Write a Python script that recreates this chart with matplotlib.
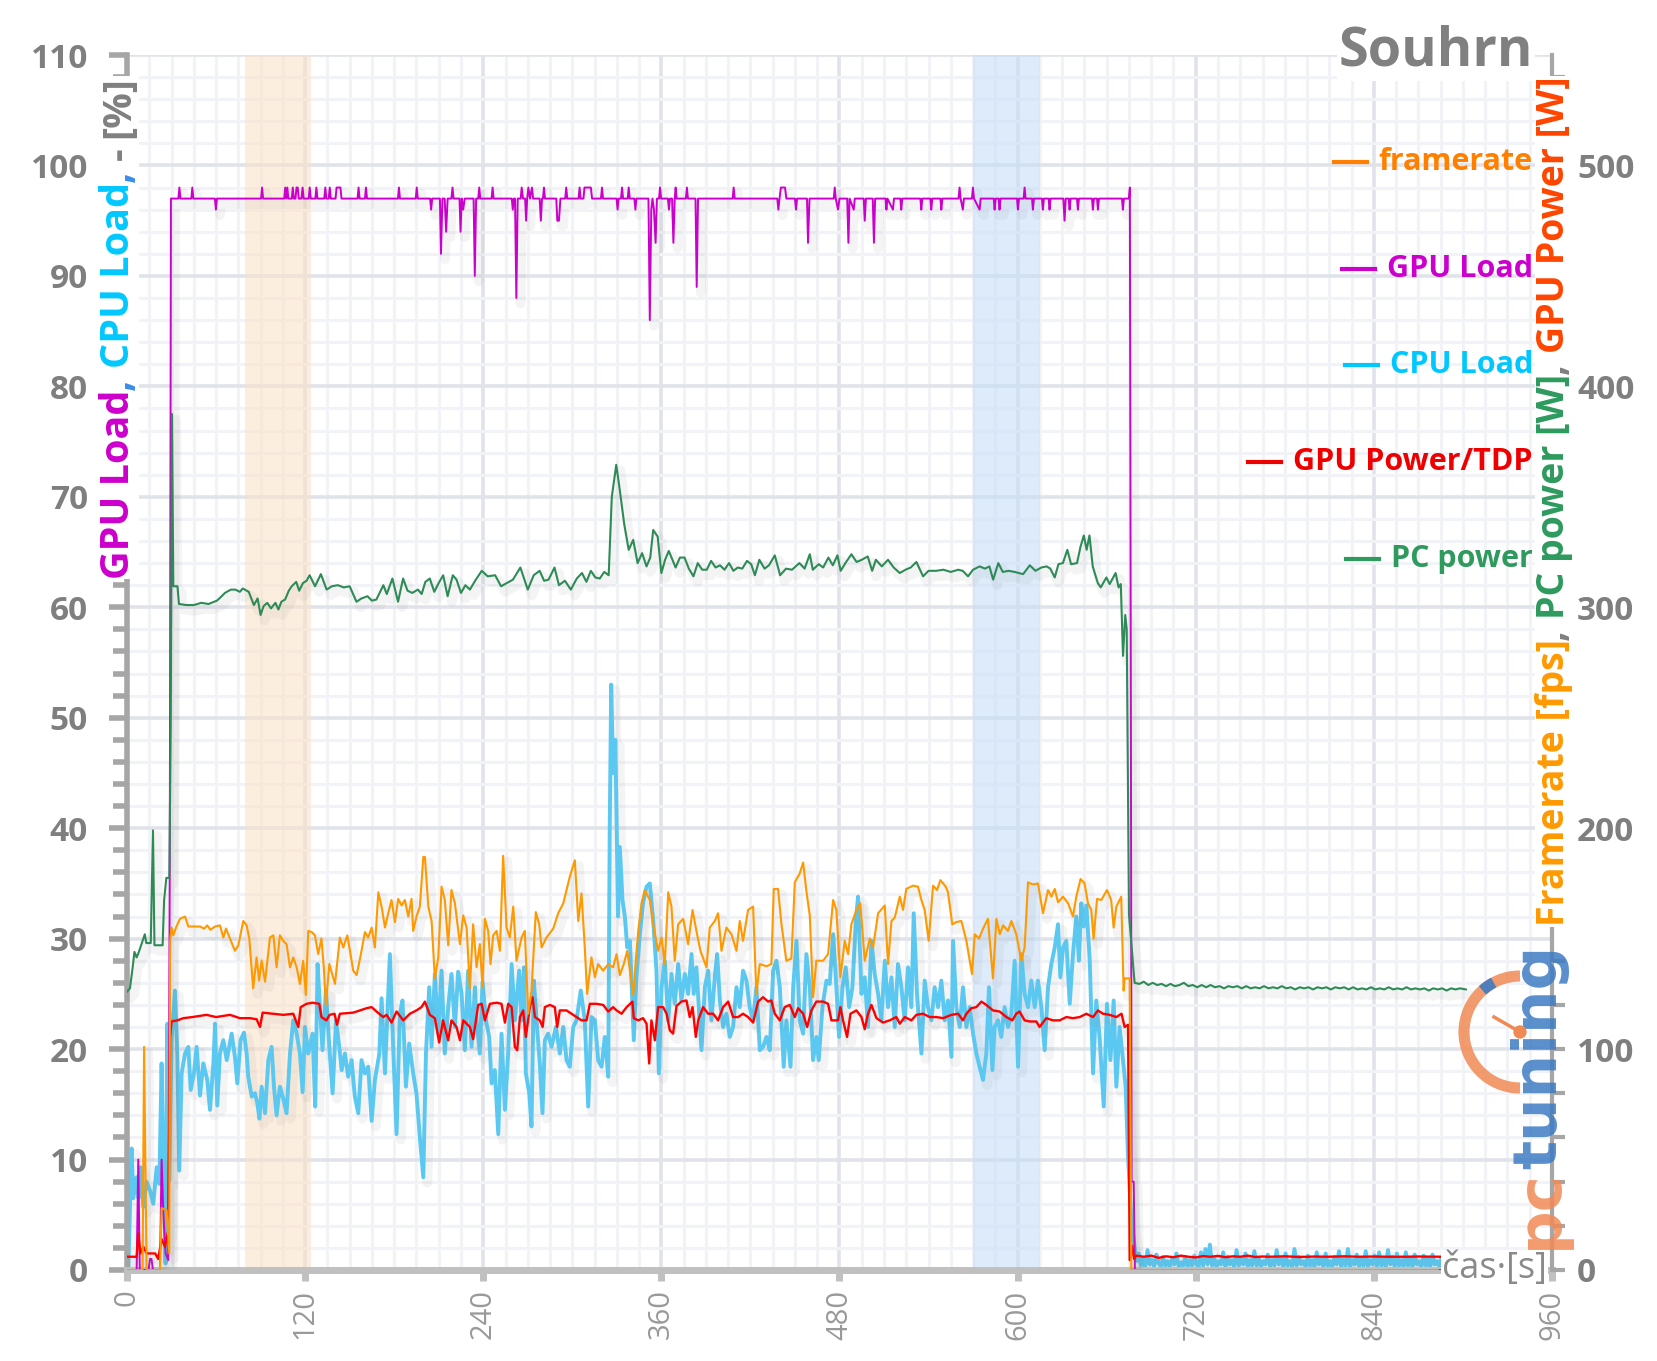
#!/usr/bin/env python

# Souhrn - GPU/CPU load, framerate and power over time

import numpy as np
import matplotlib.pyplot as plt
import matplotlib.patheffects as pe
from matplotlib.patches import Arc, Circle, Rectangle
from matplotlib.lines import Line2D
from matplotlib.transforms import IdentityTransform

plt.rcParams['font.family'] = ['Open Sans', 'DejaVu Sans']

# ---- data (time [s], value) ----
# GPU load [%]
gpu_load = [(0,0),(6.5,0),(7.6,10),(8.6,0),(14.5,0),(15.5,1),(16.5,1),(17.5,0),(22.2,0),(23.3,10),(24.5,5),(26,1.5),(27.8,0.9),(28.8,36),(29.6,97),
  (34.6,97),(35.3,98),(36,97),(43.3,97),(44,98),(44.7,97),(59.2,97),(59.9,96),(60.6,97),(90.3,97),(91,98),(91.7,97),
  (105.9,97),(106.6,98),(107.3,97),(108,98),(108.7,97),(111,97),(111.7,98),(112.4,97),(113.5,97),(114.2,98),(115,98),(115.7,97),(117.5,97),(118.3,98),(119,97),
  (122.4,97),(123.1,98),(123.8,97),(126.9,97),(127.6,98),(128.3,97),(132.9,97),(133.6,98),(134.3,97),(135.9,97),(136.6,98),(137.3,97),
  (140.5,97),(141.2,98),(143.8,98),(144.5,97),(155.3,97),(156,98),(156.7,97),(160.3,97),(161,98),(161.7,97),
  (182.5,97),(183.2,98),(183.9,97),(194.5,97),(195.2,98),(195.9,97),(204.2,97),(204.9,96),(205.6,97),
  (210.8,97),(211.5,92),(212.5,97),(214,97),(215,94),(216,97),(218.5,97),(219.3,98),(220,97),(224,97),(224.7,94),(225.5,97),(226.5,96),(227.5,97),
  (233.5,97),(234.3,90),(235.2,97),(236.6,97),(237.3,98),(238,97),(245.6,97),(246.3,98),(247,97),
  (259.2,97),(259.9,96),(260.6,97),(261.4,97),(262.3,88),(263.2,97),(265.2,97),(265.9,98),(266.8,97),(268.2,97),(268.9,95),(269.6,97),(270.4,98),(271.5,97),(272.8,98),(273.6,97),
  (278,97),(278.8,95),(279.6,97),(280.2,97),(280.9,98),(281.6,97),(289.2,97),(289.9,95),(291,95),(292,97),(295.2,97),(295.9,98),(296.6,97),
  (304.2,97),(304.9,98),(305.6,97),(307.5,97),(308.2,98),(312.5,98),(313.3,97),(319.3,97),(320,98),(320.7,97),
  (329.8,97),(330.5,96),(331.2,97),(332.8,97),(333.5,98),(334.2,97),(337.3,97),(338,98),(338.7,97),(341.8,97),(342.5,96),(343.2,97),
  (351.3,97),(352.2,86),(353.2,96),(354,97),(355,96),(356.1,93),(357,97),(358.4,97),(359.1,98),(359.8,97),
  (364.4,97),(365.1,96),(365.8,97),(367.2,97),(368.1,93),(369,97),(369.6,98),(370.3,97),(376.5,97),(377.2,98),(377.9,97),
  (383,97),(383.8,89),(384.7,97),(408,97),(408.7,98),(409.4,97),
  (438.1,97),(438.8,96),(439.6,97),(440.5,98),(443.3,98),(444.2,97),(450,97),(450.7,96),(451.4,97),(458.1,97),(458.8,93),(459.8,97),
  (476.1,97),(476.8,98),(477.5,97),(479,96),(480,97),(485.2,97),(486,93),(486.8,97),(489.6,96),(490.3,97),(496.3,97),(497,95),(497.8,97),(502.4,97),(503.2,93),(504,97),
  (511,97),(511.6,96),(512.3,97),(516,96),(516.7,97),(521,97),(521.6,96),(522.3,97),(534.5,97),(535.1,96),(535.8,97),(541.2,97),(541.8,96),(542.5,97),(548,97),(548.6,96),(549.3,97),
  (560.2,97),(560.9,98),(561.6,97),(563.1,96),(563.8,97),(569.2,97),(569.9,98),(570.6,97),(574.4,96),(575.1,97),(583.9,97),(584.5,96),(585.2,97),(587.2,97),(587.8,96),(588.5,97),
  (599.6,97),(600.2,96),(600.9,97),(604,97),(604.7,98),(605.4,97),(609.7,97),(610.3,96),(611,97),(616.4,97),(617,96),(617.7,97),(620.9,97),(621.5,96),(622.2,97),
  (630.8,97),(631.6,95),(632.4,97),(634.4,97),(635,96),(635.7,97),(640,97),(640.6,96),(641.3,97),(650.1,97),(650.7,96),(651.4,97),(653.5,97),(654.1,96),(654.8,97),
  (670.3,97),(670.9,96),(671.6,97),(675,97),(675.6,98),(676.3,50),(676.8,8),(678.2,8),(679,0),(885,0)]

# CPU load [%]
cpu_load = [(0,0),(0.9,0),(3.1,11),(4.2,6.5),(6.5,8.4),(7.8,6.5),(9.2,9.3),(11,5.7),(13.2,8),(15.5,7.2),(17.7,6),(20,9.3),(21.8,7.8),
  (23.3,18.7),(24.5,9.9),(26,0.6),(27.2,22.3),(28.5,8.1),(30,20.8),(32.3,25.3),(33.9,19.6),(35.2,9),(36.8,17.8),(39.1,19.6),(41.3,20.2),
  (42.9,16.3),(45.1,17.8),(46.9,20.2),(49.2,15.8),(51.4,18.7),(54.1,17.2),(55.9,14.5),(58.2,18.7),(59.3,22.3),(60.8,14.9),(62.6,19.6),
  (64.9,20.8),(67.2,19),(70.5,21.4),(72.7,19.3),(74.3,16.9),(76.5,20.8),(78.8,21.5),(80.6,19.6),(81.7,17.5),(84,15.7),(86.2,16),(87.8,15.1),
  (89.2,13.7),(90.7,16.6),(93,14.2),(95.2,19),(97.4,20.2),(99,16.6),(100.8,14),(103,16.6),(105.3,15.5),(107.5,14.2),(109.8,19.6),(112,22.6),
  (114.3,21.4),(116.5,19.6),(118.3,16.1),(119.9,22),(122.1,19.6),(125,21.4),(126.8,14.8),(128.4,27.7),(130,23.8),(131.7,19.9),(134,25.3),
  (136.3,20.2),(138.5,16),(140.8,22.6),(143,20.2),(144.6,18.1),(146.8,19.6),(149,17.5),(151.3,19),(153.5,15.7),(155.8,14.2),(158,19),
  (160.3,17.8),(162.5,18.4),(164.8,13.5),(167,17.2),(170,19.6),(171.5,24.6),(173.8,17.8),(177.1,28.6),(179.3,20.2),(181.6,12.3),(183.8,23.2),
  (185.6,24.4),(187.9,16.6),(190.1,20.5),(192.8,17.8),(195,16),(197.3,12),(199.6,8.4),(201.4,19.6),(203.6,25.6),(205.2,20.2),(207.4,26.8),
  (209.7,21.4),(211.9,27.1),(214.1,19.6),(216.4,23.8),(218.6,26.8),(220.9,22),(223.1,27),(225.4,25),(227.6,19.9),(229.8,27.1),(232.1,20.2),
  (234.4,25.6),(235.5,22.6),(237.7,19.6),(239.5,26.1),(241.8,22.6),(244,21.1),(245.6,16.9),(247.8,18.1),(250.1,12.3),(252.3,21.4),(254.6,14.5),
  (256.8,19.6),(259.1,27.7),(261.3,22.6),(264.2,27.1),(265.8,22.6),(267.4,27.4),(268.7,17.8),(271,16),(272.5,13),(274.1,26.2),(275.9,22.6),
  (278.1,18.7),(279.9,14.2),(281.5,20.8),(283.7,21.4),(286,20.2),(288.9,22),(291.6,19.6),(293.9,22),(296.1,19),(298.3,18.4),(300.6,22),
  (302.8,22.6),(305.7,25.3),(308.4,22.6),(310.7,14.8),(312.9,22.9),(315.2,22.6),(317.4,19),(319.7,18.4),(321.9,21.1),(324.2,17.5),(325.2,40),
  (326.2,53),(327.5,45),(329,48),(330.8,32),(332,38.3),(333.8,33.5),(335.4,32),(337,29.2),(338.8,29.8),(341.4,20.8),(343.2,26.5),(345.5,30.4),
  (347.7,33.3),(350,34.7),(352.2,35),(354.5,31.6),(356.7,27.1),(358.3,17.8),(360.1,25.6),(362.3,28),(364.6,22.6),(366.8,26.8),(369,24.1),
  (371.3,27.7),(373.5,24.4),(375.8,26.8),(378,25),(380.3,28.6),(381.8,25),(383.6,27.4),(387,19.9),(389.3,25.6),(391.5,27.1),(393.7,22.6),
  (396,26.5),(397.6,28.6),(399.4,24.4),(401.6,22),(403.8,23.2),(406.1,21.1),(408.3,22),(410.6,25.6),(412.8,23.8),(415,27.1),(417.3,26.2),
  (419.5,23.8),(421.8,22.6),(424,25.6),(426.3,19.9),(428.5,20.2),(430.8,21.1),(433,19.9),(435.3,27.1),(437.5,28),(439.8,25.6),(442.4,18.4),
  (444.2,22.6),(447,18.4),(448.8,25.6),(451,29.8),(453.2,22.6),(455.5,21.4),(457.7,28.6),(460,25.6),(462.2,19),(464.4,21.1),(466,19),
  (468.5,23.8),(471.2,26.2),(473.4,25.9),(475.7,30.4),(477.9,25.6),(479.7,21.1),(482,25.6),(484.2,27.4),(486.5,23.8),(488.7,25.6),(491,31.6),
  (492.5,33.8),(494.8,25),(497,26.5),(499.2,22),(501.5,29.8),(503.7,26.8),(506,25),(508.2,22.6),(510.5,28),(512.7,23.8),(515,26.5),(517.2,22),
  (519.4,27.7),(521.7,25.6),(523.9,22.6),(526.2,27.4),(528.4,23.8),(530,32.3),(532.2,25),(535.2,19.6),(537.4,26.2),(539.6,23.8),(541.9,22.6),
  (544.1,25.6),(546.4,23.8),(548.6,26.2),(550.9,22.6),(553.1,24.4),(555.4,19.3),(556.5,29.8),(558.7,23.8),(561,22),(563.2,25.6),(565.5,22),
  (567.7,23.8),(570,21.4),(572.2,19.6),(574.4,18.4),(576.7,17.2),(578.9,19.6),(580.7,25.6),(583,18.1),(584.5,22),(586.8,22.6),(589,21.1),
  (591.2,23.8),(593.5,22),(595.8,23.2),(598,28),(600.3,18.4),(602.5,28.6),(604.7,25),(607,23.8),(609.2,26.2),(611.5,23.8),(613.7,26.2),
  (616,23.8),(618.2,19.9),(620.5,25.6),(622.7,27.7),(625,29.2),(627.2,31.3),(628.8,26.5),(630.6,29.2),(632.8,29.8),(635.1,24.1),(637.3,28.6),
  (639.5,32),(641.3,28),(642.9,33.2),(644.5,31.1),(646.3,33),(648.6,28),(650.8,17.8),(653,24.4),(655.2,21.1),(658,14.8),(660.2,24.1),
  (662.5,19),(664.7,24.4),(666.5,16.6),(668.7,22),(671,19),(672.8,16.6),(674.3,10.5),(676.6,4.5),(678.8,2.1),
  (680,0.8),(681.5,1.5),(683,0.4),(684.5,1.1),(686,0.3),(687.5,1.8),(689,0.5),(690.5,0.9),(692,0.3),(693.5,1.4),(695,0.6),(696.5,0.3),
  (698,1.2),(699.5,0.4),(701,0.8),(702.5,0.3),(704,1.0),(705.5,0.5),(707,1.5),(708.5,0.3),(710,0.7),(711.5,0.4),(713,1.2),(714.5,0.3),
  (716,0.9),(717.5,0.4),(719,1.3),(720.5,0.5),(722,0.3),(723.5,1.6),(725,0.4),(726.5,1.9),(728,0.5),(729.5,2.3),(731,0.4),(732.5,1.1),
  (734,0.3),(735.5,0.8),(737,0.5),(738.5,1.6),(740,0.3),(741.5,1.2),(743,0.5),(744.5,0.9),(746,0.3),(747.5,1.8),(749,0.4),(750.5,1.0),
  (752,0.5),(753.5,1.5),(755,0.3),(756.5,0.9),(758,0.4),(759.5,1.7),(761,0.4),(762.5,1.1),(764,0.3),(765.5,0.8),(767,0.5),(768.5,1.4),
  (770,0.3),(771.5,0.9),(773,0.4),(774.5,1.8),(776,0.5),(777.5,1.0),(779,0.3),(780.5,1.5),(782,0.4),(783.5,0.8),(785,0.3),(786.5,1.9),
  (788,0.4),(789.5,1.2),(791,0.5),(792.5,0.8),(794,0.3),(795.5,1.3),(797,0.4),(798.5,0.9),(800,0.3),(801.5,1.6),(803,0.5),(804.5,1.0),
  (806,0.3),(807.5,1.5),(809,0.4),(810.5,0.8),(812,0.3),(813.5,1.2),(815,0.5),(816.5,1.7),(818,0.3),(819.5,1.0),(821,0.4),(822.5,1.9),
  (824,0.3),(825.5,0.9),(827,0.5),(828.5,1.4),(830,0.3),(831.5,1.1),(833,0.4),(834.5,1.7),(836,0.3),(837.5,0.9),(839,0.5),(840.5,1.3),
  (842,0.3),(843.5,1.6),(845,0.4),(846.5,1.0),(848,0.3),(849.5,1.8),(851,0.5),(852.5,1.2),(854,0.3),(855.5,1.5),(857,0.4),(858.5,0.9),
  (860,0.3),(861.5,1.6),(863,0.4),(864.5,1.1),(866,0.3),(867.5,1.4),(869,0.5),(870.5,0.8),(872,0.3),(873.5,1.3),(875,0.4),(876.5,1.0),
  (878,0.3),(879.5,1.4),(881,0.5),(882.5,0.8),(884,0.3),(885.5,1.1),(887,0.4),(888.5,0.9),(890,0.3)]

# framerate [fps]
framerate = [(0,0),(10.5,0),(11.5,101),(13.2,0),(22.2,0),(23.3,28),(26.7,27),(28.5,7.5),(29,149),(30,155),(31.2,151.5),(33,155),
  (35.7,159),(39.1,160),(41.3,155.5),(49.2,155.5),(52,154.5),(54,156),(56.2,154),(59.3,155.5),(62.6,156),(64.9,150.5),(66.7,154.5),
  (69.4,150),(72.7,144.5),(75,147),(78.3,158),(80.6,156),(82.4,150),(85,127.5),(87.3,141.5),(89,131),(90.7,140),(93,130.5),(96.3,150.5),
  (98.6,151.5),(100.8,137),(103,151.5),(105.3,149),(107.5,147.5),(109.8,137),(112,141.5),(114.3,137),(116.5,129.5),(118.7,140),(120.5,124.5),
  (122.1,153.5),(124.4,153),(126.6,151.5),(128.8,143),(131,150),(132.6,137),(134,120),(136.3,138.5),(140.1,129.5),(143.4,150.5),(145.7,146),
  (148.4,151.5),(150.2,144.5),(152.4,135.5),(154.7,133.5),(157,141),(160.3,153),(162.5,150.5),(164.8,155),(167,146),(169.3,171),(171.5,164.5),
  (173.8,155),(176,161.5),(178.2,167.5),(180.5,157.5),(182.7,168),(185,165),(187.2,167.5),(189.5,160),(191.7,168),(192.8,153.5),(195,160),
  (197.3,164.5),(199.6,187),(200.7,187),(203,164.5),(205.2,158),(207.4,132),(209.7,141.5),(211.9,173.5),(214.1,167.5),(216.4,147),(218.6,172),
  (220.9,166),(224.3,147.5),(226.5,160.5),(228.8,155),(231,127.5),(233.2,156.5),(235.5,137),(237.7,147.5),(239.5,128),(241.1,159),(243.3,153.5),
  (244.9,138.5),(246.7,151.5),(249,153.5),(251.2,144.5),(253.4,187.5),(255.7,155),(257.9,150.5),(260.2,164.5),(262.4,140),(265.8,150.5),
  (268,153.5),(270.3,116),(272.5,126.5),(275.4,162),(277.7,156.5),(279.3,146),(282.6,150.5),(287.1,154.5),(290.5,161.5),(293.9,166),(296.1,172),
  (298.3,178),(301.7,185.5),(304,158),(306.2,170.5),(308.4,146),(310,125),(312.9,141.5),(315.2,132.5),(317.4,138.5),(320.8,135.5),(324.2,138.5),
  (327.5,137),(329.8,143),(332,133.5),(334.7,138.5),(337,144.5),(338.8,135.5),(341,124.5),(344.4,153.5),(346.6,166),(348.8,172),(352.2,167.5),
  (354.5,156.5),(357.8,144.5),(360.1,150.5),(362.3,138.5),(364.6,171),(366.8,164.5),(369,140),(371.3,156.5),(374.7,159),(378,147.5),(381,163),
  (383.6,153.5),(386.3,144.5),(390.4,137),(392.6,155),(396,158),(398.2,161.5),(400.5,144.5),(403.8,155),(407.2,152),(410.6,144.5),(412.8,158),
  (415,149),(418.4,163),(421.8,164.5),(424,125),(426.3,138.5),(430.8,137.5),(434.1,138.5),(435.7,172.5),(438.6,172.5),(440.9,156.5),(444.2,140),
  (447.6,141),(449.9,175.5),(453.2,179.5),(455.5,184.5),(457.7,171.5),(460,160.5),(462.2,123.5),(464.4,140),(469,140),(472.3,143),(475.7,167.5),
  (477.9,163),(480.6,132.5),(483.5,149),(485.8,143),(488,156.5),(491.4,163),(494,166),(497,140),(500.4,150),(502.6,146),(506,161.5),(510.5,165),
  (512.7,138.5),(515,158),(517.2,159.5),(520.6,169),(522.8,163),(525,172.5),(529.6,174),(532.9,173.5),(535.2,167.5),(537.4,163),(540.1,149),
  (543,174),(545.7,172),(548,176.5),(551.6,173.5),(553.1,171),(556,156.5),(558.7,157.5),(562.1,158),(565.5,149),(569.3,134),(571.1,152),(574,150),
  (576.7,154.5),(580,159),(583.4,132),(585.7,159),(588,152),(590.2,156),(593.5,153.5),(595.8,158),(599.1,152),(602.5,140),(604.7,146),(607,175.5),
  (610.3,174.5),(613.7,175),(617.1,161.5),(620.5,172),(622.7,169),(625,172.5),(627.2,166.5),(630.6,169),(634,166),(637.3,160),(639.5,169),
  (642.4,177),(645.1,175),(647.4,166),(649.6,163),(651.2,150),(653.5,168),(656.4,167.5),(660.2,172),(663,167.5),(664.7,155),(666.5,164.5),
  (669.8,169),(671.4,126.5),(672.1,132),(675.5,132),(676.6,0),(883,0)]

# GPU power [W]
gpu_power = [(0,6),(6.5,6),(7.6,16.5),(9,7.5),(11,10.5),(13.2,7.5),(19,7.5),(21,5),(23.3,14),(25.6,10.5),(27.8,18),(29,105.5),(30,112.5),
  (33.9,113),(38,114),(44,114.5),(53.6,115.5),(60,114.5),(69.4,115.5),(76,114),(83,114),(87.3,113.5),(89.6,110),(91.4,116.5),(98.6,116),
  (105.3,115.5),(112,116),(115.4,110),(117,119),(121,120.5),(125,121),(129.5,120.5),(131,114.5),(134.3,113),(136.5,115.5),(139.8,116),
  (141.5,111),(143.4,116),(152.4,116.5),(157,117.5),(161.4,118.5),(164.8,119),(168.1,117),(172.6,114.5),(174.9,115.5),(178.2,112),(181.6,117),
  (186.1,113),(190.6,116),(195,117.5),(198.4,119),(200.7,121.5),(204,115.5),(207.4,114),(210.3,103),(212.9,113),(216.4,104),(218.6,113),
  (222,110),(224.3,104),(226.5,113),(231,110),(233.2,104.5),(236.6,120),(238.9,120.5),(241.1,113),(244.5,120.5),(249,121),(252.3,120.5),
  (254.6,112),(256.8,120.5),(259.1,119),(261.3,101),(262.9,99.5),(264.7,114.5),(266.9,117.5),(268.7,105.5),(271.4,119),(273.2,123.5),
  (274.8,114.5),(278.1,113),(280,110),(281.5,119),(284.9,120),(288.2,119),(289.8,110),(291.6,117.5),(296.1,117.5),(299.5,116),(302.8,114.5),
  (306.2,113),(309.6,113),(311.8,120.5),(316.3,120.5),(320.8,120),(324.2,117),(327.5,119),(329.8,117.5),(333.2,116),(336.6,119),(340.5,121.5),
  (341.4,114),(344.4,113),(347.7,114),(350,111.5),(351.8,93.5),(353.3,113),(355.6,104),(357.8,119),(361.2,119),(363.5,116),(365.7,108.5),
  (367.9,107),(370.2,119.5),(373.5,121.5),(376.9,122),(379.1,114.5),(381,119),(383.2,105.5),(384.8,113),(388.1,119),(391.5,116),(394.9,116),
  (398.2,113),(401.6,119),(405,121.5),(408.3,114.5),(411.7,114.5),(415,116),(418.4,114.5),(421.8,112),(425.2,121.5),(428.5,123.5),(431.9,121.5),
  (434.1,122),(436.4,116),(439.8,113),(443.1,119),(446.5,120),(449.9,114.5),(452.1,118.5),(455.5,116),(458.2,110),(461.1,117.5),(464.4,121.5),
  (469,121.5),(472.3,120.5),(474.6,113),(479,113),(480.6,119),(482.4,113),(485.1,105.5),(487.4,116),(491.4,117.5),(494.8,114.5),(497,109),
  (499.2,116),(501.5,120),(504.9,114),(509.3,112),(513.8,113),(518.3,114.5),(520.6,111.5),(524,114.5),(528.4,113),(531.8,115.5),(536.3,116),
  (540.8,114.5),(545.3,114.5),(549.8,114),(555.4,115.5),(559.9,116),(563.2,113),(565.5,116),(568.8,118.5),(572.2,119),(575.6,121.5),(578.9,120),
  (583.4,117.5),(587.9,117),(592.4,114.5),(596.4,113),(599.1,116),(601.3,117),(604.7,113),(608.1,112.5),(612.6,112.5),(614.8,110),(619.3,114),
  (623.8,113),(628.3,113),(632.8,114.5),(637.3,114),(641.8,114.5),(646.3,116),(650.8,114.5),(654.1,117.5),(657.5,116),(662,115.5),(666.5,114.5),
  (670,116),(672.1,110),(674.4,111),(675.5,4.5),(676.2,5),(677.2,11),(678.5,5),(680,6.5),(685,6),(690,6.5),(695,5.5),(700,6.2),(705,5.8),
  (710,6.5),(715,6),(720,5.7),(725,6.3),(730,6),(735,6.4),(740,5.8),(745,6.2),(750,6),(755,6.5),(760,5.9),(765,6.1),(770,6),(780,6.2),
  (790,5.9),(800,6.1),(810,6),(820,6.2),(830,6),(840,6.1),(850,6),(860,6),(870,6.1),(886,6)]

# PC power [W]
pc_power = [(0,126),(2,127.5),(4,138),(5,144),(6.5,141.5),(8,144),(10.5,149),(12,152),(13,148),(16,148),(17.5,199),(18.5,147),(24,147),
  (25,167.5),(26.5,177.5),(28.5,177.5),(29.5,250),(30.3,387.5),(31.2,309.5),(34,309.5),(35,301.5),(40,301),(45,301),(50,302),(55,301.5),
  (60.6,303),(63,304.5),(66,306.5),(70,308),(73,308),(76,307),(78,308.5),(82,307),(85.5,301),(88,304),(90,296.5),(92,300.5),(94.5,302),
  (97,299.5),(100,302),(102,299),(104,302.5),(106.5,303.5),(109,307.5),(111,309.5),(114,311.5),(116,307.5),(118.6,311),(121,312),(123,314.5),
  (126.7,309.5),(130.6,315),(134.5,308),(138,309.5),(142,310),(146,309),(150,309.5),(154.6,302.5),(158,304),(162,305),(165,303),(168,303.5),
  (172.7,310),(175,306),(178.8,313),(182.6,302.5),(186,313),(189,307.5),(192.2,306.5),(196,308),(198.5,306),(201,311.5),(204,313),(207,307),
  (210,311),(213,314.5),(216,305),(219.5,314.5),(222,312.5),(225,306.5),(228,310),(231,308),(235,312.5),(239,316.5),(243,314),(248,314.5),
  (252,309.5),(256,311),(260,312.5),(265,318),(270,308),(274,314.5),(278,316.5),(281,312),(284,312.5),(288,318),(291,310),(295,312),(299,308),
  (303,313),(306.5,315.5),(309.5,311.5),(312.5,316.5),(315.5,313.5),(318.5,313),(321.5,316),(324.5,314.5),(326.6,350),(329.6,364.5),(332,353),
  (335,337.5),(338,326),(341,330.5),(344,320),(347,324.5),(350,318.5),(352.5,322.5),(354.5,335),(357.5,332),(360,315.5),(362.5,321.5),
  (365,325.5),(369.6,318),(372.5,322.5),(375.6,322.5),(378.5,317.5),(381.6,314),(384.5,320),(387.5,317),(390.6,317),(393.5,321),(396.5,318),
  (399.5,319),(402.5,317),(405.6,320),(408.5,316.5),(411.5,318),(414.5,317.5),(417.7,321),(420.5,319.5),(423,314.5),(426,321.5),(429.5,317.5),
  (432.5,319),(436.4,323.5),(440,314.5),(444,317.5),(448,317),(453,320),(456.5,317.5),(460,324),(462,317),(466,319.5),(469,318),(472.5,322.5),
  (475.5,319),(478.6,323.5),(480.8,316.5),(484,320),(488,324),(491.5,320.5),(495,321.5),(499,323),(502,316.5),(504.5,321.5),(508.5,318.5),
  (512.7,321.5),(516.5,318),(520.6,315.5),(524.5,317),(528,318),(531.8,320.5),(536.3,314),(540,316.5),(545,316.5),(550,317),(555,316),(560,317),
  (563,316.5),(566.6,314),(570,317),(574.4,318.5),(578,317.5),(581,318.5),(583.5,312.5),(587,320),(590,316),(594,316.5),(598,316),(603.7,315),
  (608.2,319),(612,316.5),(616,318),(619.6,318.5),(622,317.5),(625,313.5),(627.5,319.5),(630.5,320),(633.5,326),(636,319.5),(640,320),
  (642.4,327.5),(644.6,332.5),(646.5,326),(648.4,332.5),(650.6,318.5),(654,311),(656,309),(659.8,313.5),(662,310.5),(666,315.5),(668,309),
  (669.5,310.5),(671,278),(672.5,296.5),(673.5,290),(675,161),(677,145),(678.8,130),(682,129.5),(685,130.5),(688,129),(691,130),(694,129),
  (697,129.5),(700,128.5),(703,129.5),(706,128.5),(709,129),(712,130),(715,128.5),(718,129),(721,128),(724,129),(727,128),(730,129),(733,128),
  (736,128.5),(739,127.5),(742,128.5),(745,128),(748,128.5),(751,127.5),(754,128.5),(757,127.5),(760,128),(763,127.5),(766,128.5),(769,127.5),
  (772,128),(775,127.5),(778,128.5),(781,127.5),(784,128),(787,127),(790,128),(793,127.5),(796,128),(799,127),(802,128),(805,127.5),(808,128),
  (811,127),(814,128),(817,127.5),(820,128),(823,127),(826,128),(829,127),(832,127.5),(835,127),(838,128),(841,127),(844,127.5),(847,127),
  (850,128),(853,127),(856,127.5),(859,127),(862,128),(865,127),(868,127.5),(871,127),(874,127.5),(877,126.5),(880,127.5),(883,127),(886,127.5),
  (889,126.5),(892,127.5),(895,127),(898,127.5),(902,127)]

# highlighted intervals [s]
band_orange = (79.5, 124)
band_blue = (570, 615)

legend_items = [('framerate', '#ff8000'), ('GPU Load', '#cc00cc'), ('CPU Load', '#00c8ff'),
                ('GPU Power/TDP', '#ee0000'), ('PC power', '#2e9a5e')]


def xy(pts):
    t, v = zip(*pts)
    return np.array(t), np.array(v)


W, H = 1658, 1361
fig = plt.figure(figsize=(W / 100, H / 100), dpi=100)
ax = fig.add_axes([127 / W, 1 - 1270 / H, 1425 / W, 1215 / H])
ax2 = ax.twinx()

ax.set_xlim(0, 960)
ax.set_ylim(0, 110)
ax2.set_ylim(0, 550)

# grid
ax.set_xticks(np.arange(0, 961, 120))
ax.set_xticks(np.arange(0, 961, 15), minor=True)
ax.set_yticks(np.arange(0, 111, 10))
ax.set_yticks(np.arange(0, 111, 2), minor=True)
ax.set_yticklabels([str(v) for v in range(0, 111, 10)], fontweight='bold')
ax.set_axisbelow(True)
ax.grid(which='minor', color='#f2f3f6', lw=2.2)
ax.grid(which='major', color='#e0e3e9', lw=2.6)

ax.tick_params(axis='y', which='major', length=13, width=4, color='#a6a6a6',
               labelsize=24, labelcolor='#7f7f7f', pad=15)
ax.tick_params(axis='y', which='minor', length=10, width=4, color='#a6a6a6')
ax.tick_params(axis='x', which='major', length=8, width=5, color='#c0c0c0',
               labelsize=21, labelcolor='#999999', pad=6, labelrotation=90)
ax.tick_params(axis='x', which='minor', length=0)

for s in ['top', 'right']:
    ax.spines[s].set_visible(False)
ax.spines['left'].set_color('#a6a6a6')
ax.spines['left'].set_linewidth(4)
ax.spines['bottom'].set_color('#c0c0c0')
ax.spines['bottom'].set_linewidth(5)

ax2.set_yticks(np.arange(0, 501, 100))
ax2.set_yticks(np.arange(0, 551, 20), minor=True)
ax2.set_yticklabels([str(v) for v in range(0, 501, 100)], fontweight='bold')
ax2.tick_params(axis='y', which='major', length=9, width=3, color='#a6a6a6',
                labelsize=24, labelcolor='#7f7f7f', pad=9)
ax2.tick_params(axis='y', which='minor', length=9, width=3, color='#a6a6a6')
for s in ['top', 'left', 'bottom']:
    ax2.spines[s].set_visible(False)
ax2.spines['right'].set_color('#a6a6a6')
ax2.spines['right'].set_linewidth(3)

# shaded intervals
ax.axvspan(*band_orange, color='#fbe0c6', alpha=0.55, lw=0, zorder=1)
ax.axvspan(*band_blue, color='#c7def8', alpha=0.6, lw=0, zorder=1)

shadow = [pe.SimpleLineShadow(offset=(3, -4), shadow_color='#7f7f7f', alpha=0.08, linewidth=7), pe.Normal()]

t, v = xy(cpu_load)
ax.plot(t, v, color='#5ac8f0', lw=2.8, zorder=2, path_effects=shadow)
t, v = xy(gpu_load)
ax.plot(t, v, color='#cc00cc', lw=1.4, zorder=3, path_effects=shadow)
t, v = xy(gpu_power)
ax2.plot(t, v, color='#ff0000', lw=1.7, zorder=2, path_effects=shadow)
t, v = xy(framerate)
ax2.plot(t, v, color='#ff9900', lw=1.5, zorder=3, path_effects=shadow)
t, v = xy(pc_power)
ax2.plot(t, v, color='#2e8b57', lw=1.5, zorder=4, path_effects=shadow)

# title
fig.text(1533 / W, 1 - 52 / H, 'Souhrn', ha='right', va='center', fontsize=39,
         fontweight='bold', color='#808080',
         bbox=dict(fc='white', ec='none', pad=1))

# x label
fig.text(1547 / W, 1 - 1269 / H, 'čas\u00b7[s]', ha='right', va='center', fontsize=26,
         color='#8a8a8a', bbox=dict(fc='white', ec='none', pad=1))

fig.canvas.draw()
r = fig.canvas.get_renderer()

# legend: coloured text with a short line in front
leg_y = [162, 269, 365, 462, 559]
for (lab, col), yy in zip(legend_items, leg_y):
    txt = fig.text(1533 / W, 1 - yy / H, lab, ha='right', va='center', fontsize=22,
                   fontweight='bold', color=col)
    bb = txt.get_window_extent(r)
    x1 = bb.x0 - 12
    x0 = x1 - 33
    yc = H - yy
    fig.add_artist(Line2D([x0, x1], [yc, yc], color=col, lw=3, transform=IdentityTransform()))


def stacked_label(pieces, xc, top, size, alpha=1.0, weight='bold', family=None, bg=True):
    # pieces from bottom to top: (text, colour, gap before in px)
    arts = []
    for s, c, gap in pieces:
        kw = dict(rotation=90, ha='center', va='bottom', fontsize=size,
                  fontweight=weight, color=c, alpha=alpha, zorder=5)
        if family:
            kw['family'] = family
        arts.append((fig.text(xc / W, 0, s, **kw), gap))
    sizes = [(a.get_window_extent(r).height, a.get_window_extent(r).width) for a, g in arts]
    total = sum(h for h, w in sizes) + sum(g for a, g in arts)
    y = (H - top) - total
    wmax = max(w for h, w in sizes)
    if bg:
        fig.add_artist(Rectangle((xc - wmax / 2, y), wmax, total, fc='white', ec='none',
                                 transform=IdentityTransform(), zorder=4))
    for (a, g), (h, w) in zip(arts, sizes):
        y += g
        a.set_position((xc / W, y / H))
        y += h


stacked_label([('GPU Load', '#cc00cc', 0), (',', '#3a8ee6', 0), ('CPU Load', '#00c8ff', 10),
               (',', '#3a8ee6', 0), ('-', '#808080', 10), ('[%]', '#808080', 10)],
              119, 76, 28.5)

stacked_label([('Framerate [fps]', '#ff9900', 0), (',', '#808080', 0), ('PC power [W]', '#2e9a5e', 10),
               (',', '#808080', 0), ('GPU Power [W]', '#ff4500', 10)],
              1554, 76, 27)

# pctuning logo
stacked_label([('pc', '#f08a55', 0), ('tuning', '#3d7cc4', 0)], 1540, 945, 44,
              alpha=0.85, family='DejaVu Sans', bg=False)
cx, cy = 1520, H - 1032
fig.add_artist(Arc((cx, cy), 112, 112, theta1=90, theta2=270, color='#f08a55', lw=8,
                   alpha=0.85, transform=IdentityTransform(), zorder=5))
fig.add_artist(Arc((cx, cy), 112, 112, theta1=118, theta2=132, color='#3d7cc4', lw=8,
                   alpha=0.9, transform=IdentityTransform(), zorder=6))
fig.add_artist(Line2D([cx, cx - 26], [cy, cy + 15], color='#f08a55', lw=2.5,
                      transform=IdentityTransform(), zorder=6))
fig.add_artist(Circle((cx, cy), 6, color='#f08a55', transform=IdentityTransform(), zorder=6))

fig.savefig('out.png', dpi=100)
